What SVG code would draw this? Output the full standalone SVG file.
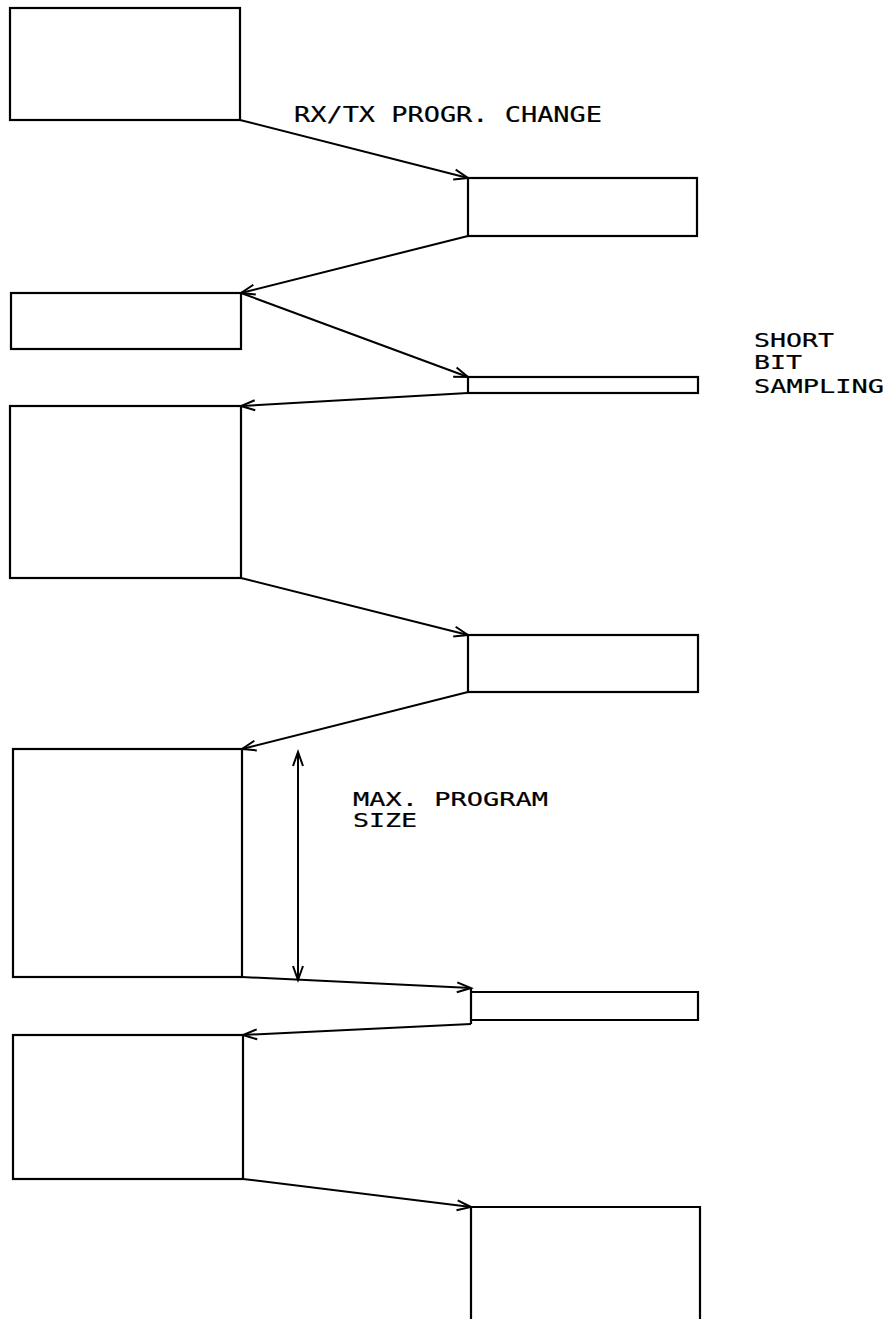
<svg xmlns="http://www.w3.org/2000/svg" width="892" height="1319" viewBox="0 0 892 1319">
<style>
.box{fill:none;stroke:#000;stroke-width:2.2}
.con{fill:none;stroke:#000;stroke-width:2}
.lbl{font-family:"DejaVu Sans Mono","Liberation Mono",monospace;font-size:19px;fill:#000;stroke:#000;stroke-width:0.2}
.big{font-size:22px}
</style>
<defs>
<marker id="ah" markerUnits="userSpaceOnUse" markerWidth="20" markerHeight="20" viewBox="-16 -8 20 16" refX="0" refY="0" orient="auto-start-reverse">
<path d="M-14,-5 L0,0 L-14,5" fill="none" stroke="#000" stroke-width="2"/>
</marker>
</defs>
<rect x="0" y="0" width="892" height="1319" fill="#fff"/>
<g id="n1"><rect class="box" x="10" y="8" width="230" height="112"/></g>
<g id="n2"><rect class="box" x="468" y="178" width="229" height="58"/></g>
<g id="n3"><rect class="box" x="11" y="293" width="230" height="56"/></g>
<g id="n4"><rect class="box" x="468" y="377" width="230" height="16"/></g>
<g id="n5"><rect class="box" x="10" y="406" width="231" height="172"/></g>
<g id="n6"><rect class="box" x="468" y="635" width="230" height="57"/></g>
<g id="n7"><rect class="box" x="13" y="749" width="229" height="228"/></g>
<g id="n8"><path class="box" d="M471,988 V1024 M471,992 H698 V1020 H471"/></g>
<g id="n9"><rect class="box" x="13" y="1035" width="230" height="144"/></g>
<g id="n10"><path class="box" d="M471,1319 V1207 H700 V1319"/></g>
<g id="connectors">
<line class="con" x1="240" y1="120" x2="468" y2="178" marker-end="url(#ah)"/>
<line class="con" x1="468" y1="236" x2="241" y2="293" marker-end="url(#ah)"/>
<line class="con" x1="241" y1="293" x2="468" y2="377" marker-end="url(#ah)"/>
<line class="con" x1="468" y1="393" x2="241" y2="406" marker-end="url(#ah)"/>
<line class="con" x1="241" y1="578" x2="468" y2="635" marker-end="url(#ah)"/>
<line class="con" x1="468" y1="692" x2="242" y2="749" marker-end="url(#ah)"/>
<line class="con" x1="242" y1="977" x2="471" y2="988" marker-end="url(#ah)"/>
<line class="con" x1="471" y1="1024" x2="243" y2="1035" marker-end="url(#ah)"/>
<line class="con" x1="243" y1="1179" x2="471" y2="1207" marker-end="url(#ah)"/>
<line class="con" x1="298" y1="752" x2="298" y2="980" marker-start="url(#ah)" marker-end="url(#ah)"/>
</g>
<g id="labels">
<text class="lbl big" x="294" y="122" textLength="308" lengthAdjust="spacingAndGlyphs">RX/TX PROGR. CHANGE</text>
<text class="lbl" x="754" y="347" textLength="80" lengthAdjust="spacingAndGlyphs">SHORT</text>
<text class="lbl" x="754" y="369" textLength="48" lengthAdjust="spacingAndGlyphs">BIT</text>
<text class="lbl" x="754" y="393" textLength="130" lengthAdjust="spacingAndGlyphs">SAMPLING</text>
<text class="lbl" x="353" y="806" textLength="195" lengthAdjust="spacingAndGlyphs">MAX. PROGRAM</text>
<text class="lbl" x="353" y="827" textLength="64" lengthAdjust="spacingAndGlyphs">SIZE</text>
</g>
</svg>
